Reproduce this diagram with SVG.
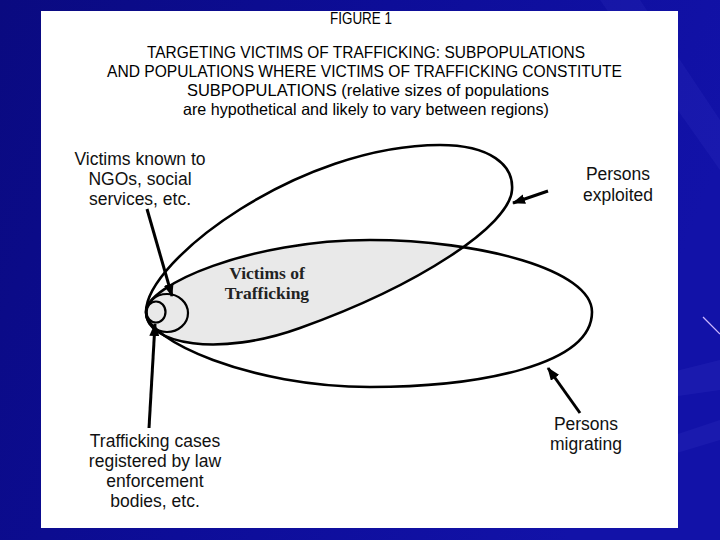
<svg xmlns="http://www.w3.org/2000/svg" width="720" height="540" viewBox="0 0 720 540">
  <style>
    .title { font-family: "Liberation Sans", Arial, sans-serif; font-size: 16.5px; fill: #000; }
    .lbl { font-family: "Liberation Sans", Arial, sans-serif; font-size: 17.5px; fill: #111; text-anchor: middle; }
    .vot { font-family: "Liberation Serif", "Times New Roman", serif; font-size: 17.5px; font-weight: bold; fill: #222; text-anchor: middle; }
    .outline { fill: none; stroke: #000; stroke-width: 2.6; }
    .circ { fill: none; stroke: #000; stroke-width: 2.2; }
    .arrow { stroke: #000; stroke-width: 3; fill: none; marker-end: url(#head); }
  </style>
  <defs>
    <linearGradient id="bg" x1="0" y1="0" x2="1" y2="0.3">
      <stop offset="0" stop-color="#0a0a80"/>
      <stop offset="0.5" stop-color="#0d0d98"/>
      <stop offset="1" stop-color="#1212a8"/>
    </linearGradient>
    <marker id="head" markerUnits="userSpaceOnUse" markerWidth="14" markerHeight="10" refX="12" refY="5" orient="auto">
      <path d="M0,0 L13,5 L0,10 z" fill="#000"/>
    </marker>
    <path id="migPath" d="M146,312 C146,285 250,240 370,240 C480,240 592,270 592,312 C592,365 480,387 370,387 C250,387 146,340 146,312 Z"/>
    <path id="expPath" d="M146,312 C146,260 300,145 440,145 C490,145 514,165 512,190 C510,225 420,285 300,328 C220,357 146,345 146,312 Z"/>
    <clipPath id="expClip"><use href="#expPath"/></clipPath>
  </defs>

  <!-- background -->
  <rect x="0" y="0" width="720" height="540" fill="url(#bg)"/>
  <g opacity="0.07" fill="#8080ff">
    <path d="M600,0 L640,0 L720,120 L720,170 Z"/>
    <path d="M640,380 L720,360 L720,390 L650,400 Z"/>
    <path d="M660,440 L720,420 L720,440 L670,455 Z"/>
  </g>
  <line x1="703" y1="317" x2="720" y2="334" stroke="#cdb8ff" stroke-width="1.2"/>

  <!-- white panel -->
  <rect x="41" y="11" width="637" height="517" fill="#ffffff"/>

  <!-- title -->
  <g id="title">
    <text class="title" x="330" y="24" textLength="62" lengthAdjust="spacingAndGlyphs">FIGURE 1</text>
    <text class="title" x="147" y="58" textLength="438" lengthAdjust="spacingAndGlyphs">TARGETING VICTIMS OF TRAFFICKING: SUBPOPULATIONS</text>
    <text class="title" x="107" y="77" textLength="515" lengthAdjust="spacingAndGlyphs">AND POPULATIONS WHERE VICTIMS OF TRAFFICKING CONSTITUTE</text>
    <text class="title" x="187" y="96" textLength="362" lengthAdjust="spacingAndGlyphs">SUBPOPULATIONS (relative sizes of populations</text>
    <text class="title" x="183" y="115" textLength="366" lengthAdjust="spacingAndGlyphs">are hypothetical and likely to vary between regions)</text>
  </g>

  <!-- victims of trafficking: intersection region -->
  <g id="victims">
    <use href="#migPath" fill="#e9e9e9" clip-path="url(#expClip)"/>
    <text class="vot" x="267" y="279">Victims of</text>
    <text class="vot" x="267" y="299">Trafficking</text>
  </g>

  <g id="migrating">
    <use href="#migPath" class="outline"/>
    <text class="lbl" x="586" y="430">Persons</text>
    <text class="lbl" x="586" y="450">migrating</text>
  </g>

  <g id="exploited">
    <use href="#expPath" class="outline"/>
    <text class="lbl" x="618" y="180">Persons</text>
    <text class="lbl" x="618" y="201">exploited</text>
  </g>

  <g id="ngo">
    <ellipse class="circ" cx="167" cy="313" rx="21" ry="19"/>
    <text class="lbl" x="140" y="165">Victims known to</text>
    <text class="lbl" x="140" y="185">NGOs, social</text>
    <text class="lbl" x="140" y="205">services, etc.</text>
  </g>

  <g id="law">
    <ellipse class="circ" cx="156" cy="312" rx="9.5" ry="10.5"/>
    <text class="lbl" x="155" y="447">Trafficking cases</text>
    <text class="lbl" x="155" y="467">registered by law</text>
    <text class="lbl" x="155" y="487">enforcement</text>
    <text class="lbl" x="155" y="507">bodies, etc.</text>
  </g>

  <!-- connectors -->
  <g id="connectors">
    <line class="arrow" x1="147" y1="209" x2="172" y2="296"/>
    <line class="arrow" x1="149" y1="428" x2="155" y2="324"/>
    <line class="arrow" x1="548" y1="191" x2="513" y2="203"/>
    <line class="arrow" x1="580" y1="413" x2="548" y2="368"/>
  </g>
</svg>
